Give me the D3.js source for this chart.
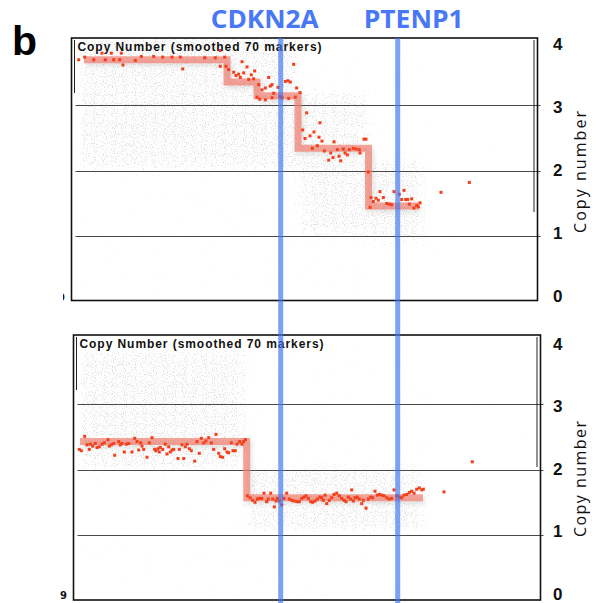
<!DOCTYPE html>
<html>
<head>
<meta charset="utf-8">
<script src="https://cdn.jsdelivr.net/npm/d3@7"></script>
<style>
  body { margin: 0; background: #fff; }
  svg { display: block; }
</style>
</head>
<body>
<div id="chart"></div>
<script>
// copy number axis ticks
var cnTicks = [0, 1, 2, 3, 4];

// genes marked by the blue lines (chr9 position, Mb)
var geneNames = ["CDKN2A", "PTENP1"];
var genePos = [21.97, 33.67];

// top sample: segment means
var topSegStart = [2.3, 16.6, 19.6, 23.7, 30.75];
var topSegEnd   = [16.6, 19.6, 23.7, 30.75, 35.8];
var topSegCN    = [3.69, 3.35, 3.14, 2.34, 1.46];

// top sample: smoothed markers
var topX = [1.77,2.37,3.27,4.1,4.43,5.03,5.27,5.87,6.03,6.2,
  7.43,8.03,9.27,10.17,11.1,11.93,12.17,14.37,15.43,15.93,
  15.93,16.37,16.5,16.77,17.27,17.5,17.77,17.93,18.1,18.27,
  18.6,18.77,19.03,19.27,19.37,19.6,19.77,19.87,20.1,20.43,
  20.43,20.77,20.93,21.1,21.1,21.27,21.7,21.93,22.1,22.43,
  22.7,22.77,22.93,23.27,23.43,23.57,23.9,24.57,24.17,25.9,
  25.3,24.4,24.9,25.8,26.1,25.63,25.13,26.33,27.3,26.97,
  27.2,26.77,27.97,27.8,27.63,28.23,28.4,28.63,28.83,29.23,
  29.5,29.83,29.9,30.3,30.5,30.73,31.9,31.0,31.5,31.73,
  31.23,32.23,30.9,32.57,32.83,33.07,33.3,33.83,34.3,34.07,
  34.47,34.67,35.07,34.83,35.3,35.57,35.73,35.9,38.0,40.83];
var topY = [3.69,3.73,3.69,3.79,3.69,3.79,3.69,3.69,3.79,3.61,
  3.68,3.74,3.74,3.73,3.73,3.73,3.55,3.72,3.72,3.83,
  3.59,3.73,3.59,3.54,3.50,3.45,3.47,3.42,3.66,3.49,
  3.58,3.39,3.46,3.40,3.52,3.12,3.31,3.09,3.23,3.26,
  3.08,3.42,3.29,3.31,3.11,3.18,3.27,3.13,3.11,3.36,
  3.37,3.10,3.35,3.62,3.12,3.26,3.19,2.88,2.62,2.73,
  2.59,2.49,2.53,2.51,2.45,2.38,2.34,2.30,2.44,2.27,
  2.20,2.16,2.15,2.22,2.32,2.33,2.27,2.24,2.32,2.34,
  2.33,2.32,2.27,2.48,2.48,1.98,1.68,1.59,1.58,1.55,
  1.53,1.59,1.44,1.50,1.49,1.48,1.68,1.64,1.70,1.56,
  1.56,1.56,1.57,1.49,1.43,1.47,1.45,1.51,1.67,1.82];

// top sample: where the raw probes cluster
var topBandStart = [1.5, 23.7, 30.75];
var topBandEnd   = [23.7, 30.75, 36.3];
var topBandLo    = [2.0, 1.0, 0.9];
var topBandHi    = [4.4, 3.2, 2.2];

// bottom sample: segment means
var botSegStart = [1.9, 18.57];
var botSegEnd   = [18.57, 36.2];
var botSegCN    = [2.43, 1.57];

// bottom sample: smoothed markers
var botX = [1.83,2.03,2.37,2.6,2.83,2.93,3.17,3.43,3.6,3.83,
  4.1,4.33,4.7,4.83,5.03,5.27,5.37,5.77,5.93,6.1,
  6.33,6.53,6.77,7.1,7.37,7.6,7.77,7.97,8.1,8.27,
  8.6,8.83,9.1,9.37,9.5,9.7,9.83,9.93,10.17,10.43,
  10.6,10.77,10.93,11.1,11.27,11.7,11.83,12.1,12.27,12.43,
  12.6,12.83,13.03,13.37,13.6,13.83,14.03,14.27,14.5,14.77,
  15.03,15.27,15.5,15.77,15.93,16.17,16.37,16.6,16.77,17.03,
  17.2,17.43,17.6,17.87,18.1,18.27,18.43,
  18.63,18.9,19.17,19.4,19.63,19.83,20.07,20.3,20.57,20.73,
  20.97,21.17,21.33,21.5,21.63,21.83,22.07,22.3,22.57,22.83,
  23.07,23.3,23.57,23.83,24.07,24.3,24.5,24.73,24.97,25.17,
  25.4,25.63,25.9,26.07,26.23,26.4,26.57,26.83,27.07,27.3,
  27.57,27.83,28.07,28.3,28.5,28.73,28.97,29.07,29.23,29.4,
  29.63,29.83,30.07,30.23,30.5,30.73,30.97,31.17,31.4,31.63,
  31.83,32.07,32.3,32.57,32.83,33.07,33.3,33.57,33.83,34.07,
  34.3,34.57,34.83,35.07,35.3,35.57,35.83,36.07,36.23,38.3,41.13];
var botY = [2.31,2.29,2.51,2.38,2.31,2.39,2.36,2.40,2.34,2.35,
  2.39,2.41,2.46,2.36,2.38,2.40,2.22,2.43,2.38,2.40,
  2.27,2.39,2.40,2.27,2.48,2.43,2.30,2.41,2.36,2.31,
  2.19,2.41,2.49,2.31,2.29,2.32,2.27,2.34,2.31,2.39,
  2.24,2.35,2.27,2.30,2.31,2.17,2.31,2.38,2.17,2.35,
  2.39,2.32,2.29,2.13,2.43,2.25,2.48,2.41,2.44,2.49,
  2.41,2.31,2.54,2.25,2.20,2.19,2.32,2.27,2.26,2.41,
  2.29,2.29,2.39,2.43,2.39,2.43,2.46,
  1.60,1.57,1.53,1.50,1.55,1.56,1.56,1.64,1.51,1.55,
  1.64,1.55,1.43,1.52,1.56,1.52,1.46,1.56,1.64,1.55,
  1.53,1.52,1.51,1.51,1.56,1.58,1.60,1.56,1.51,1.50,
  1.52,1.55,1.58,1.57,1.53,1.61,1.48,1.53,1.57,1.62,
  1.64,1.60,1.56,1.53,1.51,1.58,1.55,1.69,1.52,1.57,
  1.58,1.55,1.48,1.53,1.41,1.55,1.58,1.57,1.67,1.61,
  1.62,1.61,1.60,1.57,1.55,1.56,1.69,1.60,1.58,1.57,
  1.61,1.62,1.65,1.67,1.64,1.70,1.72,1.69,1.70,1.66,2.12];

// bottom sample: raw probe clusters
var botBandStart = [1.5, 18.57];
var botBandEnd   = [18.57, 36.3];
var botBandLo    = [2.0, 1.05];
var botBandHi    = [3.85, 2.05];


var width = 608, height = 603;

var svg = d3.select("#chart").append("svg")
    .attr("width", width)
    .attr("height", height);

// shared genomic axis for both tracks
var x = d3.scaleLinear().domain([1.3, 47.2]).range([74, 533]);

var defs = svg.append("defs");

// speckle texture standing in for the grey raw-probe cloud
var grain = defs.append("filter")
    .attr("id", "grain")
    .attr("filterUnits", "userSpaceOnUse")
    .attr("x", 0).attr("y", 0).attr("width", width).attr("height", height)
    .attr("color-interpolation-filters", "sRGB");
grain.append("feTurbulence")
    .attr("type", "fractalNoise").attr("baseFrequency", 0.9)
    .attr("numOctaves", 1).attr("seed", 4).attr("result", "noise");
grain.append("feColorMatrix")
    .attr("in", "noise").attr("type", "matrix")
    .attr("values", "0 0 0 0 0  0 0 0 0 0  0 0 0 0 0  1 0 0 0 0")
    .attr("result", "na");
grain.append("feGaussianBlur")
    .attr("in", "SourceAlpha").attr("stdDeviation", 6).attr("result", "mask");
grain.append("feComposite")
    .attr("in", "na").attr("in2", "mask").attr("operator", "arithmetic")
    .attr("k1", 0).attr("k2", 6).attr("k3", 2.1).attr("k4", -5.2)
    .attr("result", "mix");
grain.append("feColorMatrix")
    .attr("in", "mix").attr("type", "matrix")
    .attr("values", "0 0 0 0 0.86  0 0 0 0 0.86  0 0 0 0 0.86  0 0 0 0.8 0");

var shadow = defs.append("filter")
    .attr("id", "shadow")
    .attr("x", "-10%").attr("y", "-10%").attr("width", "130%").attr("height", "130%");
shadow.append("feDropShadow")
    .attr("dx", 2).attr("dy", 3).attr("stdDeviation", 2)
    .attr("flood-color", "#888").attr("flood-opacity", 0.3);

var panels = [
  { box: {l: 71.5, t: 38, r: 537.5, b: 300.5}, y0: 301.9, y4: 39.4,
    lab0: 296, lab4: 44, titleMid: 172, titleLen: 122, edgeTo: 212,
    segStart: topSegStart, segEnd: topSegEnd, segCN: topSegCN, ptX: topX, ptY: topY,
    bandStart: topBandStart, bandEnd: topBandEnd, bandLo: topBandLo, bandHi: topBandHi },
  { box: {l: 73.5, t: 335, r: 540.5, b: 600}, y0: 600.3, y4: 339,
    lab0: 593.5, lab4: 344, titleMid: 479, titleLen: 116, edgeTo: 467,
    segStart: botSegStart, segEnd: botSegEnd, segCN: botSegCN, ptX: botX, ptY: botY,
    bandStart: botBandStart, bandEnd: botBandEnd, bandLo: botBandLo, bandHi: botBandHi }
];

panels.forEach(function(p, i) {
  var b = p.box;
  var y = d3.scaleLinear().domain([0, 4]).range([p.y0, p.y4]);
  var yLab = d3.scaleLinear().domain([0, 4]).range([p.lab0, p.lab4]);

  defs.append("clipPath").attr("id", "clip" + i)
    .append("rect")
    .attr("x", b.l + 1).attr("y", b.t + 1)
    .attr("width", b.r - b.l - 2).attr("height", b.b - b.t - 2);

  var g = svg.append("g").attr("class", "panel");

  // grey probe cloud: faint everywhere, dense around the segments
  var cloud = g.append("g")
      .attr("clip-path", "url(#clip" + i + ")")
      .append("g")
      .attr("filter", "url(#grain)");
  cloud.append("rect")
      .attr("x", b.l + 4).attr("y", b.t)
      .attr("width", x(37) - b.l - 4).attr("height", b.b - b.t)
      .attr("fill", "#000").attr("fill-opacity", 0.42);
  cloud.append("rect")
      .attr("x", x(37)).attr("y", b.t)
      .attr("width", b.r - x(37)).attr("height", b.b - b.t)
      .attr("fill", "#000").attr("fill-opacity", 0.3);
  cloud.selectAll(".band")
      .data(d3.range(p.bandStart.length))
      .enter().append("rect")
      .attr("class", "band")
      .attr("x", function(k) { return x(p.bandStart[k]); })
      .attr("width", function(k) { return x(p.bandEnd[k]) - x(p.bandStart[k]); })
      .attr("y", function(k) { return y(p.bandHi[k]); })
      .attr("height", function(k) { return y(p.bandLo[k]) - y(p.bandHi[k]); })
      .attr("fill", "#000");

  // grid lines at 1, 2, 3
  g.selectAll(".grid")
      .data(cnTicks.filter(function(t) { return t > 0 && t < 4; }))
      .enter().append("line")
      .attr("class", "grid")
      .attr("x1", b.l + 4).attr("x2", b.r + 3)
      .attr("y1", function(t) { return Math.round(y(t)) + 0.5; })
      .attr("y2", function(t) { return Math.round(y(t)) + 0.5; })
      .attr("stroke", "#4a4a4a").attr("stroke-width", 1);

  // segment means as a step line
  var steps = p.segStart.map(function(s, k) { return [s, p.segCN[k]]; });
  steps.push([p.segEnd[p.segEnd.length - 1], p.segCN[p.segCN.length - 1]]);
  var stepLine = d3.line()
      .x(function(d) { return x(d[0]); })
      .y(function(d) { return y(d[1]); })
      .curve(d3.curveStepAfter);
  g.append("path")
      .datum(steps)
      .attr("d", stepLine)
      .attr("fill", "none")
      .attr("stroke", "#f07a6c")
      .attr("stroke-opacity", 0.68)
      .attr("stroke-width", 7)
      .attr("filter", "url(#shadow)");

  // smoothed markers
  g.selectAll(".pt")
      .data(d3.range(p.ptX.length))
      .enter().append("rect")
      .attr("class", "pt")
      .attr("x", function(k) { return x(p.ptX[k]) - 1.5; })
      .attr("y", function(k) { return y(p.ptY[k]) - 1.5; })
      .attr("width", 3).attr("height", 3)
      .attr("fill", "#f43f1a");

  g.append("text")
      .attr("x", b.l + 6).attr("y", b.t + 13)
      .attr("font-family", "Liberation Sans, Arial, sans-serif")
      .attr("font-weight", "bold")
      .attr("font-size", 12)
      .attr("textLength", 244)
      .attr("lengthAdjust", "spacing")
      .attr("fill", "#111")
      .text("Copy Number  (smoothed 70 markers)");

  // frame
  g.append("rect")
      .attr("x", b.l).attr("y", b.t)
      .attr("width", b.r - b.l).attr("height", b.b - b.t)
      .attr("fill", "none").attr("stroke", "#111").attr("stroke-width", 1.6);
  g.append("line")
      .attr("x1", b.r - 3.5).attr("x2", b.r - 3.5)
      .attr("y1", b.t + 2).attr("y2", p.edgeTo)
      .attr("stroke", "#222").attr("stroke-width", 1);
  g.append("line")
      .attr("x1", b.l + 3).attr("x2", b.l + 3)
      .attr("y1", b.t + 2).attr("y2", b.t + 55)
      .attr("stroke", "#222").attr("stroke-width", 1);

  // right-hand copy number scale
  g.selectAll(".tick")
      .data(cnTicks)
      .enter().append("text")
      .attr("class", "tick")
      .attr("x", 553)
      .attr("y", function(t) { return yLab(t) + 6; })
      .attr("font-family", "Liberation Sans, Arial, sans-serif")
      .attr("font-weight", "bold")
      .attr("font-size", 17)
      .attr("fill", "#111")
      .text(function(t) { return t; });

  g.append("text")
      .attr("transform", "translate(586," + p.titleMid + ") rotate(-90)")
      .attr("text-anchor", "middle")
      .attr("font-family", "Open Sans, sans-serif")
      .attr("font-size", 16)
      .attr("textLength", p.titleLen)
      .attr("lengthAdjust", "spacing")
      .attr("fill", "#111")
      .text("Copy number");
});

// clipped chromosome labels at the left edge
defs.append("clipPath").attr("id", "edgeclip")
  .append("rect").attr("x", 63).attr("y", 280).attr("width", 10).attr("height", 30);
svg.append("text")
    .attr("x", 58).attr("y", 301)
    .attr("clip-path", "url(#edgeclip)")
    .attr("font-family", "DejaVu Sans, sans-serif").attr("font-weight", "bold")
    .attr("font-size", 10).attr("fill", "#111")
    .text("9");
svg.append("text")
    .attr("x", 60).attr("y", 599)
    .attr("font-family", "DejaVu Sans, sans-serif").attr("font-weight", "bold")
    .attr("font-size", 10).attr("fill", "#111")
    .text("9");

// gene position markers across both tracks
var labelShift = [-16, 16];
svg.selectAll(".gene")
    .data(genePos)
    .enter().append("line")
    .attr("class", "gene")
    .attr("x1", function(d) { return x(d); })
    .attr("x2", function(d) { return x(d); })
    .attr("y1", 38).attr("y2", height)
    .attr("stroke", "#4075f0").attr("stroke-opacity", 0.68)
    .attr("stroke-width", 5);

svg.selectAll(".geneLabel")
    .data(geneNames)
    .enter().append("text")
    .attr("class", "geneLabel")
    .attr("x", function(d, i) { return x(genePos[i]) + labelShift[i]; })
    .attr("y", 27.5)
    .attr("text-anchor", "middle")
    .attr("font-family", "Open Sans, sans-serif")
    .attr("font-weight", "bold")
    .attr("font-size", 25)
    .attr("textLength", function(d, i) { return i == 0 ? 108 : 100; })
    .attr("lengthAdjust", "spacingAndGlyphs")
    .attr("fill", "#4878f5")
    .text(function(d) { return d; });

// panel letter
svg.append("text")
    .attr("x", 12).attr("y", 55)
    .attr("font-family", "Liberation Sans, Arial, sans-serif")
    .attr("font-weight", "bold")
    .attr("font-size", 41)
    .attr("fill", "#000")
    .text("b");
</script>
</body>
</html>
